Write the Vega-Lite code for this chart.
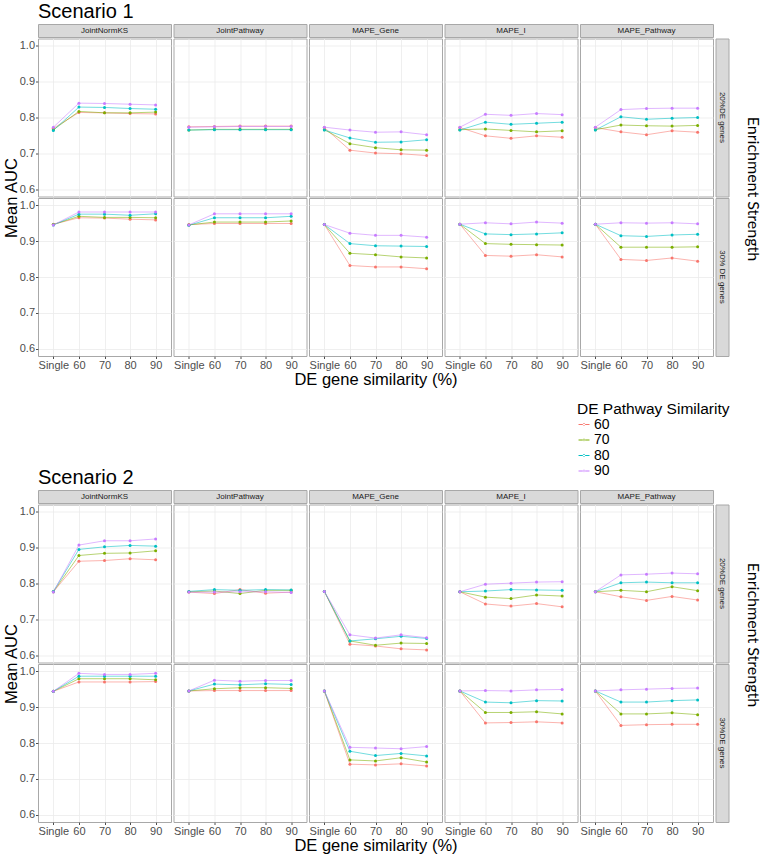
{
  "$schema": "https://vega.github.io/schema/vega-lite/v6.json",
  "padding": {"left": 2, "top": 1, "right": 0, "bottom": 0},
  "datasets": {
    "s1": [
      {"d":"20","m":"JointNormKS","p":"60","x":"Single","v":0.770},{"d":"20","m":"JointNormKS","p":"60","x":"60","v":0.814},{"d":"20","m":"JointNormKS","p":"60","x":"70","v":0.813},{"d":"20","m":"JointNormKS","p":"60","x":"80","v":0.811},{"d":"20","m":"JointNormKS","p":"60","x":"90","v":0.810},
      {"d":"20","m":"JointNormKS","p":"70","x":"Single","v":0.766},{"d":"20","m":"JointNormKS","p":"70","x":"60","v":0.817},{"d":"20","m":"JointNormKS","p":"70","x":"70","v":0.813},{"d":"20","m":"JointNormKS","p":"70","x":"80","v":0.813},{"d":"20","m":"JointNormKS","p":"70","x":"90","v":0.815},
      {"d":"20","m":"JointNormKS","p":"80","x":"Single","v":0.764},{"d":"20","m":"JointNormKS","p":"80","x":"60","v":0.829},{"d":"20","m":"JointNormKS","p":"80","x":"70","v":0.828},{"d":"20","m":"JointNormKS","p":"80","x":"80","v":0.825},{"d":"20","m":"JointNormKS","p":"80","x":"90","v":0.823},
      {"d":"20","m":"JointNormKS","p":"90","x":"Single","v":0.773},{"d":"20","m":"JointNormKS","p":"90","x":"60","v":0.840},{"d":"20","m":"JointNormKS","p":"90","x":"70","v":0.839},{"d":"20","m":"JointNormKS","p":"90","x":"80","v":0.837},{"d":"20","m":"JointNormKS","p":"90","x":"90","v":0.835},
      {"d":"20","m":"JointPathway","p":"60","x":"Single","v":0.774},{"d":"20","m":"JointPathway","p":"60","x":"60","v":0.775},{"d":"20","m":"JointPathway","p":"60","x":"70","v":0.776},{"d":"20","m":"JointPathway","p":"60","x":"80","v":0.776},{"d":"20","m":"JointPathway","p":"60","x":"90","v":0.776},
      {"d":"20","m":"JointPathway","p":"70","x":"Single","v":0.765},{"d":"20","m":"JointPathway","p":"70","x":"60","v":0.767},{"d":"20","m":"JointPathway","p":"70","x":"70","v":0.767},{"d":"20","m":"JointPathway","p":"70","x":"80","v":0.767},{"d":"20","m":"JointPathway","p":"70","x":"90","v":0.767},
      {"d":"20","m":"JointPathway","p":"80","x":"Single","v":0.765},{"d":"20","m":"JointPathway","p":"80","x":"60","v":0.766},{"d":"20","m":"JointPathway","p":"80","x":"70","v":0.766},{"d":"20","m":"JointPathway","p":"80","x":"80","v":0.766},{"d":"20","m":"JointPathway","p":"80","x":"90","v":0.766},
      {"d":"20","m":"JointPathway","p":"90","x":"Single","v":0.773},{"d":"20","m":"JointPathway","p":"90","x":"60","v":0.774},{"d":"20","m":"JointPathway","p":"90","x":"70","v":0.775},{"d":"20","m":"JointPathway","p":"90","x":"80","v":0.775},{"d":"20","m":"JointPathway","p":"90","x":"90","v":0.775},
      {"d":"20","m":"MAPE_Gene","p":"60","x":"Single","v":0.772},{"d":"20","m":"MAPE_Gene","p":"60","x":"60","v":0.709},{"d":"20","m":"MAPE_Gene","p":"60","x":"70","v":0.701},{"d":"20","m":"MAPE_Gene","p":"60","x":"80","v":0.699},{"d":"20","m":"MAPE_Gene","p":"60","x":"90","v":0.694},
      {"d":"20","m":"MAPE_Gene","p":"70","x":"Single","v":0.766},{"d":"20","m":"MAPE_Gene","p":"70","x":"60","v":0.727},{"d":"20","m":"MAPE_Gene","p":"70","x":"70","v":0.716},{"d":"20","m":"MAPE_Gene","p":"70","x":"80","v":0.710},{"d":"20","m":"MAPE_Gene","p":"70","x":"90","v":0.709},
      {"d":"20","m":"MAPE_Gene","p":"80","x":"Single","v":0.765},{"d":"20","m":"MAPE_Gene","p":"80","x":"60","v":0.743},{"d":"20","m":"MAPE_Gene","p":"80","x":"70","v":0.731},{"d":"20","m":"MAPE_Gene","p":"80","x":"80","v":0.732},{"d":"20","m":"MAPE_Gene","p":"80","x":"90","v":0.738},
      {"d":"20","m":"MAPE_Gene","p":"90","x":"Single","v":0.773},{"d":"20","m":"MAPE_Gene","p":"90","x":"60","v":0.765},{"d":"20","m":"MAPE_Gene","p":"90","x":"70","v":0.759},{"d":"20","m":"MAPE_Gene","p":"90","x":"80","v":0.760},{"d":"20","m":"MAPE_Gene","p":"90","x":"90","v":0.752},
      {"d":"20","m":"MAPE_I","p":"60","x":"Single","v":0.772},{"d":"20","m":"MAPE_I","p":"60","x":"60","v":0.749},{"d":"20","m":"MAPE_I","p":"60","x":"70","v":0.742},{"d":"20","m":"MAPE_I","p":"60","x":"80","v":0.749},{"d":"20","m":"MAPE_I","p":"60","x":"90","v":0.745},
      {"d":"20","m":"MAPE_I","p":"70","x":"Single","v":0.766},{"d":"20","m":"MAPE_I","p":"70","x":"60","v":0.768},{"d":"20","m":"MAPE_I","p":"70","x":"70","v":0.764},{"d":"20","m":"MAPE_I","p":"70","x":"80","v":0.760},{"d":"20","m":"MAPE_I","p":"70","x":"90","v":0.763},
      {"d":"20","m":"MAPE_I","p":"80","x":"Single","v":0.765},{"d":"20","m":"MAPE_I","p":"80","x":"60","v":0.787},{"d":"20","m":"MAPE_I","p":"80","x":"70","v":0.781},{"d":"20","m":"MAPE_I","p":"80","x":"80","v":0.784},{"d":"20","m":"MAPE_I","p":"80","x":"90","v":0.787},
      {"d":"20","m":"MAPE_I","p":"90","x":"Single","v":0.773},{"d":"20","m":"MAPE_I","p":"90","x":"60","v":0.809},{"d":"20","m":"MAPE_I","p":"90","x":"70","v":0.806},{"d":"20","m":"MAPE_I","p":"90","x":"80","v":0.811},{"d":"20","m":"MAPE_I","p":"90","x":"90","v":0.808},
      {"d":"20","m":"MAPE_Pathway","p":"60","x":"Single","v":0.772},{"d":"20","m":"MAPE_Pathway","p":"60","x":"60","v":0.760},{"d":"20","m":"MAPE_Pathway","p":"60","x":"70","v":0.752},{"d":"20","m":"MAPE_Pathway","p":"60","x":"80","v":0.763},{"d":"20","m":"MAPE_Pathway","p":"60","x":"90","v":0.759},
      {"d":"20","m":"MAPE_Pathway","p":"70","x":"Single","v":0.766},{"d":"20","m":"MAPE_Pathway","p":"70","x":"60","v":0.779},{"d":"20","m":"MAPE_Pathway","p":"70","x":"70","v":0.777},{"d":"20","m":"MAPE_Pathway","p":"70","x":"80","v":0.776},{"d":"20","m":"MAPE_Pathway","p":"70","x":"90","v":0.778},
      {"d":"20","m":"MAPE_Pathway","p":"80","x":"Single","v":0.765},{"d":"20","m":"MAPE_Pathway","p":"80","x":"60","v":0.802},{"d":"20","m":"MAPE_Pathway","p":"80","x":"70","v":0.795},{"d":"20","m":"MAPE_Pathway","p":"80","x":"80","v":0.798},{"d":"20","m":"MAPE_Pathway","p":"80","x":"90","v":0.800},
      {"d":"20","m":"MAPE_Pathway","p":"90","x":"Single","v":0.773},{"d":"20","m":"MAPE_Pathway","p":"90","x":"60","v":0.822},{"d":"20","m":"MAPE_Pathway","p":"90","x":"70","v":0.825},{"d":"20","m":"MAPE_Pathway","p":"90","x":"80","v":0.826},{"d":"20","m":"MAPE_Pathway","p":"90","x":"90","v":0.826},
      {"d":"30","m":"JointNormKS","p":"60","x":"Single","v":0.947},{"d":"30","m":"JointNormKS","p":"60","x":"60","v":0.965},{"d":"30","m":"JointNormKS","p":"60","x":"70","v":0.964},{"d":"30","m":"JointNormKS","p":"60","x":"80","v":0.961},{"d":"30","m":"JointNormKS","p":"60","x":"90","v":0.959},
      {"d":"30","m":"JointNormKS","p":"70","x":"Single","v":0.946},{"d":"30","m":"JointNormKS","p":"70","x":"60","v":0.969},{"d":"30","m":"JointNormKS","p":"70","x":"70","v":0.966},{"d":"30","m":"JointNormKS","p":"70","x":"80","v":0.966},{"d":"30","m":"JointNormKS","p":"70","x":"90","v":0.965},
      {"d":"30","m":"JointNormKS","p":"80","x":"Single","v":0.945},{"d":"30","m":"JointNormKS","p":"80","x":"60","v":0.975},{"d":"30","m":"JointNormKS","p":"80","x":"70","v":0.975},{"d":"30","m":"JointNormKS","p":"80","x":"80","v":0.972},{"d":"30","m":"JointNormKS","p":"80","x":"90","v":0.976},
      {"d":"30","m":"JointNormKS","p":"90","x":"Single","v":0.945},{"d":"30","m":"JointNormKS","p":"90","x":"60","v":0.981},{"d":"30","m":"JointNormKS","p":"90","x":"70","v":0.981},{"d":"30","m":"JointNormKS","p":"90","x":"80","v":0.981},{"d":"30","m":"JointNormKS","p":"90","x":"90","v":0.981},
      {"d":"30","m":"JointPathway","p":"60","x":"Single","v":0.946},{"d":"30","m":"JointPathway","p":"60","x":"60","v":0.949},{"d":"30","m":"JointPathway","p":"60","x":"70","v":0.949},{"d":"30","m":"JointPathway","p":"60","x":"80","v":0.949},{"d":"30","m":"JointPathway","p":"60","x":"90","v":0.949},
      {"d":"30","m":"JointPathway","p":"70","x":"Single","v":0.945},{"d":"30","m":"JointPathway","p":"70","x":"60","v":0.953},{"d":"30","m":"JointPathway","p":"70","x":"70","v":0.953},{"d":"30","m":"JointPathway","p":"70","x":"80","v":0.953},{"d":"30","m":"JointPathway","p":"70","x":"90","v":0.956},
      {"d":"30","m":"JointPathway","p":"80","x":"Single","v":0.944},{"d":"30","m":"JointPathway","p":"80","x":"60","v":0.965},{"d":"30","m":"JointPathway","p":"80","x":"70","v":0.965},{"d":"30","m":"JointPathway","p":"80","x":"80","v":0.965},{"d":"30","m":"JointPathway","p":"80","x":"90","v":0.969},
      {"d":"30","m":"JointPathway","p":"90","x":"Single","v":0.945},{"d":"30","m":"JointPathway","p":"90","x":"60","v":0.976},{"d":"30","m":"JointPathway","p":"90","x":"70","v":0.976},{"d":"30","m":"JointPathway","p":"90","x":"80","v":0.976},{"d":"30","m":"JointPathway","p":"90","x":"90","v":0.976},
      {"d":"30","m":"MAPE_Gene","p":"60","x":"Single","v":0.946},{"d":"30","m":"MAPE_Gene","p":"60","x":"60","v":0.832},{"d":"30","m":"MAPE_Gene","p":"60","x":"70","v":0.828},{"d":"30","m":"MAPE_Gene","p":"60","x":"80","v":0.828},{"d":"30","m":"MAPE_Gene","p":"60","x":"90","v":0.823},
      {"d":"30","m":"MAPE_Gene","p":"70","x":"Single","v":0.946},{"d":"30","m":"MAPE_Gene","p":"70","x":"60","v":0.866},{"d":"30","m":"MAPE_Gene","p":"70","x":"70","v":0.862},{"d":"30","m":"MAPE_Gene","p":"70","x":"80","v":0.856},{"d":"30","m":"MAPE_Gene","p":"70","x":"90","v":0.853},
      {"d":"30","m":"MAPE_Gene","p":"80","x":"Single","v":0.946},{"d":"30","m":"MAPE_Gene","p":"80","x":"60","v":0.893},{"d":"30","m":"MAPE_Gene","p":"80","x":"70","v":0.887},{"d":"30","m":"MAPE_Gene","p":"80","x":"80","v":0.886},{"d":"30","m":"MAPE_Gene","p":"80","x":"90","v":0.885},
      {"d":"30","m":"MAPE_Gene","p":"90","x":"Single","v":0.946},{"d":"30","m":"MAPE_Gene","p":"90","x":"60","v":0.922},{"d":"30","m":"MAPE_Gene","p":"90","x":"70","v":0.916},{"d":"30","m":"MAPE_Gene","p":"90","x":"80","v":0.916},{"d":"30","m":"MAPE_Gene","p":"90","x":"90","v":0.911},
      {"d":"30","m":"MAPE_I","p":"60","x":"Single","v":0.947},{"d":"30","m":"MAPE_I","p":"60","x":"60","v":0.860},{"d":"30","m":"MAPE_I","p":"60","x":"70","v":0.858},{"d":"30","m":"MAPE_I","p":"60","x":"80","v":0.862},{"d":"30","m":"MAPE_I","p":"60","x":"90","v":0.856},
      {"d":"30","m":"MAPE_I","p":"70","x":"Single","v":0.947},{"d":"30","m":"MAPE_I","p":"70","x":"60","v":0.893},{"d":"30","m":"MAPE_I","p":"70","x":"70","v":0.891},{"d":"30","m":"MAPE_I","p":"70","x":"80","v":0.890},{"d":"30","m":"MAPE_I","p":"70","x":"90","v":0.889},
      {"d":"30","m":"MAPE_I","p":"80","x":"Single","v":0.947},{"d":"30","m":"MAPE_I","p":"80","x":"60","v":0.920},{"d":"30","m":"MAPE_I","p":"80","x":"70","v":0.918},{"d":"30","m":"MAPE_I","p":"80","x":"80","v":0.920},{"d":"30","m":"MAPE_I","p":"80","x":"90","v":0.923},
      {"d":"30","m":"MAPE_I","p":"90","x":"Single","v":0.947},{"d":"30","m":"MAPE_I","p":"90","x":"60","v":0.951},{"d":"30","m":"MAPE_I","p":"90","x":"70","v":0.948},{"d":"30","m":"MAPE_I","p":"90","x":"80","v":0.953},{"d":"30","m":"MAPE_I","p":"90","x":"90","v":0.950},
      {"d":"30","m":"MAPE_Pathway","p":"60","x":"Single","v":0.947},{"d":"30","m":"MAPE_Pathway","p":"60","x":"60","v":0.849},{"d":"30","m":"MAPE_Pathway","p":"60","x":"70","v":0.846},{"d":"30","m":"MAPE_Pathway","p":"60","x":"80","v":0.853},{"d":"30","m":"MAPE_Pathway","p":"60","x":"90","v":0.844},
      {"d":"30","m":"MAPE_Pathway","p":"70","x":"Single","v":0.947},{"d":"30","m":"MAPE_Pathway","p":"70","x":"60","v":0.883},{"d":"30","m":"MAPE_Pathway","p":"70","x":"70","v":0.883},{"d":"30","m":"MAPE_Pathway","p":"70","x":"80","v":0.883},{"d":"30","m":"MAPE_Pathway","p":"70","x":"90","v":0.884},
      {"d":"30","m":"MAPE_Pathway","p":"80","x":"Single","v":0.947},{"d":"30","m":"MAPE_Pathway","p":"80","x":"60","v":0.915},{"d":"30","m":"MAPE_Pathway","p":"80","x":"70","v":0.913},{"d":"30","m":"MAPE_Pathway","p":"80","x":"80","v":0.917},{"d":"30","m":"MAPE_Pathway","p":"80","x":"90","v":0.919},
      {"d":"30","m":"MAPE_Pathway","p":"90","x":"Single","v":0.947},{"d":"30","m":"MAPE_Pathway","p":"90","x":"60","v":0.951},{"d":"30","m":"MAPE_Pathway","p":"90","x":"70","v":0.950},{"d":"30","m":"MAPE_Pathway","p":"90","x":"80","v":0.951},{"d":"30","m":"MAPE_Pathway","p":"90","x":"90","v":0.948}
    ],
    "s2": [
      {"d":"20","m":"JointNormKS","p":"60","x":"Single","v":0.777},{"d":"20","m":"JointNormKS","p":"60","x":"60","v":0.862},{"d":"20","m":"JointNormKS","p":"60","x":"70","v":0.864},{"d":"20","m":"JointNormKS","p":"60","x":"80","v":0.869},{"d":"20","m":"JointNormKS","p":"60","x":"90","v":0.866},
      {"d":"20","m":"JointNormKS","p":"70","x":"Single","v":0.777},{"d":"20","m":"JointNormKS","p":"70","x":"60","v":0.878},{"d":"20","m":"JointNormKS","p":"70","x":"70","v":0.884},{"d":"20","m":"JointNormKS","p":"70","x":"80","v":0.885},{"d":"20","m":"JointNormKS","p":"70","x":"90","v":0.891},
      {"d":"20","m":"JointNormKS","p":"80","x":"Single","v":0.778},{"d":"20","m":"JointNormKS","p":"80","x":"60","v":0.895},{"d":"20","m":"JointNormKS","p":"80","x":"70","v":0.902},{"d":"20","m":"JointNormKS","p":"80","x":"80","v":0.906},{"d":"20","m":"JointNormKS","p":"80","x":"90","v":0.904},
      {"d":"20","m":"JointNormKS","p":"90","x":"Single","v":0.776},{"d":"20","m":"JointNormKS","p":"90","x":"60","v":0.907},{"d":"20","m":"JointNormKS","p":"90","x":"70","v":0.919},{"d":"20","m":"JointNormKS","p":"90","x":"80","v":0.919},{"d":"20","m":"JointNormKS","p":"90","x":"90","v":0.924},
      {"d":"20","m":"JointPathway","p":"60","x":"Single","v":0.776},{"d":"20","m":"JointPathway","p":"60","x":"60","v":0.772},{"d":"20","m":"JointPathway","p":"60","x":"70","v":0.783},{"d":"20","m":"JointPathway","p":"60","x":"80","v":0.773},{"d":"20","m":"JointPathway","p":"60","x":"90","v":0.776},
      {"d":"20","m":"JointPathway","p":"70","x":"Single","v":0.777},{"d":"20","m":"JointPathway","p":"70","x":"60","v":0.779},{"d":"20","m":"JointPathway","p":"70","x":"70","v":0.772},{"d":"20","m":"JointPathway","p":"70","x":"80","v":0.781},{"d":"20","m":"JointPathway","p":"70","x":"90","v":0.781},
      {"d":"20","m":"JointPathway","p":"80","x":"Single","v":0.778},{"d":"20","m":"JointPathway","p":"80","x":"60","v":0.783},{"d":"20","m":"JointPathway","p":"80","x":"70","v":0.781},{"d":"20","m":"JointPathway","p":"80","x":"80","v":0.783},{"d":"20","m":"JointPathway","p":"80","x":"90","v":0.782},
      {"d":"20","m":"JointPathway","p":"90","x":"Single","v":0.776},{"d":"20","m":"JointPathway","p":"90","x":"60","v":0.776},{"d":"20","m":"JointPathway","p":"90","x":"70","v":0.777},{"d":"20","m":"JointPathway","p":"90","x":"80","v":0.777},{"d":"20","m":"JointPathway","p":"90","x":"90","v":0.775},
      {"d":"20","m":"MAPE_Gene","p":"60","x":"Single","v":0.778},{"d":"20","m":"MAPE_Gene","p":"60","x":"60","v":0.631},{"d":"20","m":"MAPE_Gene","p":"60","x":"70","v":0.626},{"d":"20","m":"MAPE_Gene","p":"60","x":"80","v":0.618},{"d":"20","m":"MAPE_Gene","p":"60","x":"90","v":0.615},
      {"d":"20","m":"MAPE_Gene","p":"70","x":"Single","v":0.778},{"d":"20","m":"MAPE_Gene","p":"70","x":"60","v":0.640},{"d":"20","m":"MAPE_Gene","p":"70","x":"70","v":0.628},{"d":"20","m":"MAPE_Gene","p":"70","x":"80","v":0.634},{"d":"20","m":"MAPE_Gene","p":"70","x":"90","v":0.633},
      {"d":"20","m":"MAPE_Gene","p":"80","x":"Single","v":0.778},{"d":"20","m":"MAPE_Gene","p":"80","x":"60","v":0.640},{"d":"20","m":"MAPE_Gene","p":"80","x":"70","v":0.646},{"d":"20","m":"MAPE_Gene","p":"80","x":"80","v":0.653},{"d":"20","m":"MAPE_Gene","p":"80","x":"90","v":0.647},
      {"d":"20","m":"MAPE_Gene","p":"90","x":"Single","v":0.778},{"d":"20","m":"MAPE_Gene","p":"90","x":"60","v":0.657},{"d":"20","m":"MAPE_Gene","p":"90","x":"70","v":0.648},{"d":"20","m":"MAPE_Gene","p":"90","x":"80","v":0.657},{"d":"20","m":"MAPE_Gene","p":"90","x":"90","v":0.649},
      {"d":"20","m":"MAPE_I","p":"60","x":"Single","v":0.777},{"d":"20","m":"MAPE_I","p":"60","x":"60","v":0.743},{"d":"20","m":"MAPE_I","p":"60","x":"70","v":0.737},{"d":"20","m":"MAPE_I","p":"60","x":"80","v":0.744},{"d":"20","m":"MAPE_I","p":"60","x":"90","v":0.735},
      {"d":"20","m":"MAPE_I","p":"70","x":"Single","v":0.777},{"d":"20","m":"MAPE_I","p":"70","x":"60","v":0.762},{"d":"20","m":"MAPE_I","p":"70","x":"70","v":0.758},{"d":"20","m":"MAPE_I","p":"70","x":"80","v":0.768},{"d":"20","m":"MAPE_I","p":"70","x":"90","v":0.765},
      {"d":"20","m":"MAPE_I","p":"80","x":"Single","v":0.777},{"d":"20","m":"MAPE_I","p":"80","x":"60","v":0.779},{"d":"20","m":"MAPE_I","p":"80","x":"70","v":0.783},{"d":"20","m":"MAPE_I","p":"80","x":"80","v":0.782},{"d":"20","m":"MAPE_I","p":"80","x":"90","v":0.781},
      {"d":"20","m":"MAPE_I","p":"90","x":"Single","v":0.777},{"d":"20","m":"MAPE_I","p":"90","x":"60","v":0.798},{"d":"20","m":"MAPE_I","p":"90","x":"70","v":0.801},{"d":"20","m":"MAPE_I","p":"90","x":"80","v":0.804},{"d":"20","m":"MAPE_I","p":"90","x":"90","v":0.805},
      {"d":"20","m":"MAPE_Pathway","p":"60","x":"Single","v":0.777},{"d":"20","m":"MAPE_Pathway","p":"60","x":"60","v":0.763},{"d":"20","m":"MAPE_Pathway","p":"60","x":"70","v":0.753},{"d":"20","m":"MAPE_Pathway","p":"60","x":"80","v":0.764},{"d":"20","m":"MAPE_Pathway","p":"60","x":"90","v":0.754},
      {"d":"20","m":"MAPE_Pathway","p":"70","x":"Single","v":0.777},{"d":"20","m":"MAPE_Pathway","p":"70","x":"60","v":0.781},{"d":"20","m":"MAPE_Pathway","p":"70","x":"70","v":0.777},{"d":"20","m":"MAPE_Pathway","p":"70","x":"80","v":0.791},{"d":"20","m":"MAPE_Pathway","p":"70","x":"90","v":0.780},
      {"d":"20","m":"MAPE_Pathway","p":"80","x":"Single","v":0.777},{"d":"20","m":"MAPE_Pathway","p":"80","x":"60","v":0.802},{"d":"20","m":"MAPE_Pathway","p":"80","x":"70","v":0.804},{"d":"20","m":"MAPE_Pathway","p":"80","x":"80","v":0.802},{"d":"20","m":"MAPE_Pathway","p":"80","x":"90","v":0.802},
      {"d":"20","m":"MAPE_Pathway","p":"90","x":"Single","v":0.777},{"d":"20","m":"MAPE_Pathway","p":"90","x":"60","v":0.824},{"d":"20","m":"MAPE_Pathway","p":"90","x":"70","v":0.826},{"d":"20","m":"MAPE_Pathway","p":"90","x":"80","v":0.829},{"d":"20","m":"MAPE_Pathway","p":"90","x":"90","v":0.827},
      {"d":"30","m":"JointNormKS","p":"60","x":"Single","v":0.944},{"d":"30","m":"JointNormKS","p":"60","x":"60","v":0.970},{"d":"30","m":"JointNormKS","p":"60","x":"70","v":0.970},{"d":"30","m":"JointNormKS","p":"60","x":"80","v":0.970},{"d":"30","m":"JointNormKS","p":"60","x":"90","v":0.971},
      {"d":"30","m":"JointNormKS","p":"70","x":"Single","v":0.944},{"d":"30","m":"JointNormKS","p":"70","x":"60","v":0.979},{"d":"30","m":"JointNormKS","p":"70","x":"70","v":0.979},{"d":"30","m":"JointNormKS","p":"70","x":"80","v":0.979},{"d":"30","m":"JointNormKS","p":"70","x":"90","v":0.976},
      {"d":"30","m":"JointNormKS","p":"80","x":"Single","v":0.944},{"d":"30","m":"JointNormKS","p":"80","x":"60","v":0.986},{"d":"30","m":"JointNormKS","p":"80","x":"70","v":0.986},{"d":"30","m":"JointNormKS","p":"80","x":"80","v":0.986},{"d":"30","m":"JointNormKS","p":"80","x":"90","v":0.986},
      {"d":"30","m":"JointNormKS","p":"90","x":"Single","v":0.944},{"d":"30","m":"JointNormKS","p":"90","x":"60","v":0.994},{"d":"30","m":"JointNormKS","p":"90","x":"70","v":0.991},{"d":"30","m":"JointNormKS","p":"90","x":"80","v":0.991},{"d":"30","m":"JointNormKS","p":"90","x":"90","v":0.994},
      {"d":"30","m":"JointPathway","p":"60","x":"Single","v":0.945},{"d":"30","m":"JointPathway","p":"60","x":"60","v":0.946},{"d":"30","m":"JointPathway","p":"60","x":"70","v":0.946},{"d":"30","m":"JointPathway","p":"60","x":"80","v":0.946},{"d":"30","m":"JointPathway","p":"60","x":"90","v":0.946},
      {"d":"30","m":"JointPathway","p":"70","x":"Single","v":0.945},{"d":"30","m":"JointPathway","p":"70","x":"60","v":0.951},{"d":"30","m":"JointPathway","p":"70","x":"70","v":0.954},{"d":"30","m":"JointPathway","p":"70","x":"80","v":0.954},{"d":"30","m":"JointPathway","p":"70","x":"90","v":0.952},
      {"d":"30","m":"JointPathway","p":"80","x":"Single","v":0.945},{"d":"30","m":"JointPathway","p":"80","x":"60","v":0.964},{"d":"30","m":"JointPathway","p":"80","x":"70","v":0.962},{"d":"30","m":"JointPathway","p":"80","x":"80","v":0.965},{"d":"30","m":"JointPathway","p":"80","x":"90","v":0.963},
      {"d":"30","m":"JointPathway","p":"90","x":"Single","v":0.945},{"d":"30","m":"JointPathway","p":"90","x":"60","v":0.975},{"d":"30","m":"JointPathway","p":"90","x":"70","v":0.972},{"d":"30","m":"JointPathway","p":"90","x":"80","v":0.974},{"d":"30","m":"JointPathway","p":"90","x":"90","v":0.974},
      {"d":"30","m":"MAPE_Gene","p":"60","x":"Single","v":0.945},{"d":"30","m":"MAPE_Gene","p":"60","x":"60","v":0.741},{"d":"30","m":"MAPE_Gene","p":"60","x":"70","v":0.739},{"d":"30","m":"MAPE_Gene","p":"60","x":"80","v":0.742},{"d":"30","m":"MAPE_Gene","p":"60","x":"90","v":0.736},
      {"d":"30","m":"MAPE_Gene","p":"70","x":"Single","v":0.945},{"d":"30","m":"MAPE_Gene","p":"70","x":"60","v":0.753},{"d":"30","m":"MAPE_Gene","p":"70","x":"70","v":0.750},{"d":"30","m":"MAPE_Gene","p":"70","x":"80","v":0.759},{"d":"30","m":"MAPE_Gene","p":"70","x":"90","v":0.747},
      {"d":"30","m":"MAPE_Gene","p":"80","x":"Single","v":0.945},{"d":"30","m":"MAPE_Gene","p":"80","x":"60","v":0.777},{"d":"30","m":"MAPE_Gene","p":"80","x":"70","v":0.765},{"d":"30","m":"MAPE_Gene","p":"80","x":"80","v":0.771},{"d":"30","m":"MAPE_Gene","p":"80","x":"90","v":0.764},
      {"d":"30","m":"MAPE_Gene","p":"90","x":"Single","v":0.945},{"d":"30","m":"MAPE_Gene","p":"90","x":"60","v":0.788},{"d":"30","m":"MAPE_Gene","p":"90","x":"70","v":0.786},{"d":"30","m":"MAPE_Gene","p":"90","x":"80","v":0.784},{"d":"30","m":"MAPE_Gene","p":"90","x":"90","v":0.790},
      {"d":"30","m":"MAPE_I","p":"60","x":"Single","v":0.945},{"d":"30","m":"MAPE_I","p":"60","x":"60","v":0.856},{"d":"30","m":"MAPE_I","p":"60","x":"70","v":0.857},{"d":"30","m":"MAPE_I","p":"60","x":"80","v":0.859},{"d":"30","m":"MAPE_I","p":"60","x":"90","v":0.856},
      {"d":"30","m":"MAPE_I","p":"70","x":"Single","v":0.945},{"d":"30","m":"MAPE_I","p":"70","x":"60","v":0.885},{"d":"30","m":"MAPE_I","p":"70","x":"70","v":0.885},{"d":"30","m":"MAPE_I","p":"70","x":"80","v":0.887},{"d":"30","m":"MAPE_I","p":"70","x":"90","v":0.881},
      {"d":"30","m":"MAPE_I","p":"80","x":"Single","v":0.945},{"d":"30","m":"MAPE_I","p":"80","x":"60","v":0.914},{"d":"30","m":"MAPE_I","p":"80","x":"70","v":0.912},{"d":"30","m":"MAPE_I","p":"80","x":"80","v":0.918},{"d":"30","m":"MAPE_I","p":"80","x":"90","v":0.917},
      {"d":"30","m":"MAPE_I","p":"90","x":"Single","v":0.945},{"d":"30","m":"MAPE_I","p":"90","x":"60","v":0.946},{"d":"30","m":"MAPE_I","p":"90","x":"70","v":0.945},{"d":"30","m":"MAPE_I","p":"90","x":"80","v":0.948},{"d":"30","m":"MAPE_I","p":"90","x":"90","v":0.949},
      {"d":"30","m":"MAPE_Pathway","p":"60","x":"Single","v":0.945},{"d":"30","m":"MAPE_Pathway","p":"60","x":"60","v":0.849},{"d":"30","m":"MAPE_Pathway","p":"60","x":"70","v":0.851},{"d":"30","m":"MAPE_Pathway","p":"60","x":"80","v":0.852},{"d":"30","m":"MAPE_Pathway","p":"60","x":"90","v":0.852},
      {"d":"30","m":"MAPE_Pathway","p":"70","x":"Single","v":0.945},{"d":"30","m":"MAPE_Pathway","p":"70","x":"60","v":0.881},{"d":"30","m":"MAPE_Pathway","p":"70","x":"70","v":0.881},{"d":"30","m":"MAPE_Pathway","p":"70","x":"80","v":0.884},{"d":"30","m":"MAPE_Pathway","p":"70","x":"90","v":0.879},
      {"d":"30","m":"MAPE_Pathway","p":"80","x":"Single","v":0.945},{"d":"30","m":"MAPE_Pathway","p":"80","x":"60","v":0.914},{"d":"30","m":"MAPE_Pathway","p":"80","x":"70","v":0.914},{"d":"30","m":"MAPE_Pathway","p":"80","x":"80","v":0.918},{"d":"30","m":"MAPE_Pathway","p":"80","x":"90","v":0.920},
      {"d":"30","m":"MAPE_Pathway","p":"90","x":"Single","v":0.945},{"d":"30","m":"MAPE_Pathway","p":"90","x":"60","v":0.948},{"d":"30","m":"MAPE_Pathway","p":"90","x":"70","v":0.950},{"d":"30","m":"MAPE_Pathway","p":"90","x":"80","v":0.952},{"d":"30","m":"MAPE_Pathway","p":"90","x":"90","v":0.953}
    ]
  },
  "spacing": 78,
  "vconcat": [
    {
      "spacing": 14,
      "hconcat": [
        {
          "title": {"text": "Scenario 1", "anchor": "start", "frame": "group", "fontSize": 20, "fontWeight": "normal", "color": "black", "offset": 2},
          "columns": 6,
          "bounds": "flush",
          "spacing": {"row": 1.5, "column": 2.5},
          "concat": [
            {"width": 133, "height": 13, "view": {"fill": "#d9d9d9", "stroke": "#a8a8a8"}, "data": {"values": [{"m": "JointNormKS"}]}, "mark": {"type": "text", "fontSize": 8, "color": "#1a1a1a"}, "encoding": {"text": {"field": "m"}}},
            {"width": 133, "height": 13, "view": {"fill": "#d9d9d9", "stroke": "#a8a8a8"}, "data": {"values": [{"m": "JointPathway"}]}, "mark": {"type": "text", "fontSize": 8, "color": "#1a1a1a"}, "encoding": {"text": {"field": "m"}}},
            {"width": 133, "height": 13, "view": {"fill": "#d9d9d9", "stroke": "#a8a8a8"}, "data": {"values": [{"m": "MAPE_Gene"}]}, "mark": {"type": "text", "fontSize": 8, "color": "#1a1a1a"}, "encoding": {"text": {"field": "m"}}},
            {"width": 133, "height": 13, "view": {"fill": "#d9d9d9", "stroke": "#a8a8a8"}, "data": {"values": [{"m": "MAPE_I"}]}, "mark": {"type": "text", "fontSize": 8, "color": "#1a1a1a"}, "encoding": {"text": {"field": "m"}}},
            {"width": 133, "height": 13, "view": {"fill": "#d9d9d9", "stroke": "#a8a8a8"}, "data": {"values": [{"m": "MAPE_Pathway"}]}, "mark": {"type": "text", "fontSize": 8, "color": "#1a1a1a"}, "encoding": {"text": {"field": "m"}}},
            {"width": 13, "height": 13, "view": {"stroke": null}, "data": {"values": []}, "mark": "point", "encoding": {}},

            {"width": 133, "height": 158, "view": {"fill": "white", "stroke": "#a8a8a8"}, "data": {"name": "s1"}, "transform": [{"filter": "datum.d === '20' && datum.m === 'JointNormKS'"}],
             "encoding": {"x": {"field": "x", "type": "ordinal", "scale": {"type": "point", "domain": ["Single", "60", "70", "80", "90"], "padding": 0.6}, "axis": {"labels": false, "ticks": false, "title": null}},
               "y": {"field": "v", "type": "quantitative", "scale": {"domain": [0.58, 1.02], "nice": false, "zero": false}, "axis": {"title": "Mean AUC", "titleY": 159}},
               "color": {"field": "p", "type": "nominal", "title": "DE Pathway Similarity"}},
             "layer": [{"mark": {"type": "line", "strokeWidth": 1, "opacity": 0.55}, "encoding": {"order": {"value": null}}}, {"mark": {"type": "circle", "size": 9, "opacity": 1}}]},
            {"width": 133, "height": 158, "view": {"fill": "white", "stroke": "#a8a8a8"}, "data": {"name": "s1"}, "transform": [{"filter": "datum.d === '20' && datum.m === 'JointPathway'"}],
             "encoding": {"x": {"field": "x", "type": "ordinal", "scale": {"type": "point", "domain": ["Single", "60", "70", "80", "90"], "padding": 0.6}, "axis": {"labels": false, "ticks": false, "title": null}},
               "y": {"field": "v", "type": "quantitative", "scale": {"domain": [0.58, 1.02], "nice": false, "zero": false}, "axis": {"labels": false, "ticks": false, "title": null}},
               "color": {"field": "p", "type": "nominal", "title": "DE Pathway Similarity"}},
             "layer": [{"mark": {"type": "line", "strokeWidth": 1, "opacity": 0.55}, "encoding": {"order": {"value": null}}}, {"mark": {"type": "circle", "size": 9, "opacity": 1}}]},
            {"width": 133, "height": 158, "view": {"fill": "white", "stroke": "#a8a8a8"}, "data": {"name": "s1"}, "transform": [{"filter": "datum.d === '20' && datum.m === 'MAPE_Gene'"}],
             "encoding": {"x": {"field": "x", "type": "ordinal", "scale": {"type": "point", "domain": ["Single", "60", "70", "80", "90"], "padding": 0.6}, "axis": {"labels": false, "ticks": false, "title": null}},
               "y": {"field": "v", "type": "quantitative", "scale": {"domain": [0.58, 1.02], "nice": false, "zero": false}, "axis": {"labels": false, "ticks": false, "title": null}},
               "color": {"field": "p", "type": "nominal", "title": "DE Pathway Similarity"}},
             "layer": [{"mark": {"type": "line", "strokeWidth": 1, "opacity": 0.55}, "encoding": {"order": {"value": null}}}, {"mark": {"type": "circle", "size": 9, "opacity": 1}}]},
            {"width": 133, "height": 158, "view": {"fill": "white", "stroke": "#a8a8a8"}, "data": {"name": "s1"}, "transform": [{"filter": "datum.d === '20' && datum.m === 'MAPE_I'"}],
             "encoding": {"x": {"field": "x", "type": "ordinal", "scale": {"type": "point", "domain": ["Single", "60", "70", "80", "90"], "padding": 0.6}, "axis": {"labels": false, "ticks": false, "title": null}},
               "y": {"field": "v", "type": "quantitative", "scale": {"domain": [0.58, 1.02], "nice": false, "zero": false}, "axis": {"labels": false, "ticks": false, "title": null}},
               "color": {"field": "p", "type": "nominal", "title": "DE Pathway Similarity"}},
             "layer": [{"mark": {"type": "line", "strokeWidth": 1, "opacity": 0.55}, "encoding": {"order": {"value": null}}}, {"mark": {"type": "circle", "size": 9, "opacity": 1}}]},
            {"width": 133, "height": 158, "view": {"fill": "white", "stroke": "#a8a8a8"}, "data": {"name": "s1"}, "transform": [{"filter": "datum.d === '20' && datum.m === 'MAPE_Pathway'"}],
             "encoding": {"x": {"field": "x", "type": "ordinal", "scale": {"type": "point", "domain": ["Single", "60", "70", "80", "90"], "padding": 0.6}, "axis": {"labels": false, "ticks": false, "title": null}},
               "y": {"field": "v", "type": "quantitative", "scale": {"domain": [0.58, 1.02], "nice": false, "zero": false}, "axis": {"labels": false, "ticks": false, "title": null}},
               "color": {"field": "p", "type": "nominal", "title": "DE Pathway Similarity"}},
             "layer": [{"mark": {"type": "line", "strokeWidth": 1, "opacity": 0.55}, "encoding": {"order": {"value": null}}}, {"mark": {"type": "circle", "size": 9, "opacity": 1}}]},
            {"width": 13, "height": 158, "view": {"fill": "#d9d9d9", "stroke": "#a8a8a8"}, "data": {"values": [{"d": "20%DE genes"}]}, "mark": {"type": "text", "fontSize": 8, "angle": 90, "color": "#1a1a1a"}, "encoding": {"text": {"field": "d"}}},

            {"width": 133, "height": 158, "view": {"fill": "white", "stroke": "#a8a8a8"}, "data": {"name": "s1"}, "transform": [{"filter": "datum.d === '30' && datum.m === 'JointNormKS'"}],
             "encoding": {"x": {"field": "x", "type": "ordinal", "scale": {"type": "point", "domain": ["Single", "60", "70", "80", "90"], "padding": 0.6}, "axis": {"title": null}},
               "y": {"field": "v", "type": "quantitative", "scale": {"domain": [0.58, 1.02], "nice": false, "zero": false}, "axis": {"title": null}},
               "color": {"field": "p", "type": "nominal", "title": "DE Pathway Similarity"}},
             "layer": [{"mark": {"type": "line", "strokeWidth": 1, "opacity": 0.55}, "encoding": {"order": {"value": null}}}, {"mark": {"type": "circle", "size": 9, "opacity": 1}}]},
            {"width": 133, "height": 158, "view": {"fill": "white", "stroke": "#a8a8a8"}, "data": {"name": "s1"}, "transform": [{"filter": "datum.d === '30' && datum.m === 'JointPathway'"}],
             "encoding": {"x": {"field": "x", "type": "ordinal", "scale": {"type": "point", "domain": ["Single", "60", "70", "80", "90"], "padding": 0.6}, "axis": {"title": null}},
               "y": {"field": "v", "type": "quantitative", "scale": {"domain": [0.58, 1.02], "nice": false, "zero": false}, "axis": {"labels": false, "ticks": false, "title": null}},
               "color": {"field": "p", "type": "nominal", "title": "DE Pathway Similarity"}},
             "layer": [{"mark": {"type": "line", "strokeWidth": 1, "opacity": 0.55}, "encoding": {"order": {"value": null}}}, {"mark": {"type": "circle", "size": 9, "opacity": 1}}]},
            {"width": 133, "height": 158, "view": {"fill": "white", "stroke": "#a8a8a8"}, "data": {"name": "s1"}, "transform": [{"filter": "datum.d === '30' && datum.m === 'MAPE_Gene'"}],
             "encoding": {"x": {"field": "x", "type": "ordinal", "scale": {"type": "point", "domain": ["Single", "60", "70", "80", "90"], "padding": 0.6}, "axis": {"title": "DE gene similarity (%)"}},
               "y": {"field": "v", "type": "quantitative", "scale": {"domain": [0.58, 1.02], "nice": false, "zero": false}, "axis": {"labels": false, "ticks": false, "title": null}},
               "color": {"field": "p", "type": "nominal", "title": "DE Pathway Similarity"}},
             "layer": [{"mark": {"type": "line", "strokeWidth": 1, "opacity": 0.55}, "encoding": {"order": {"value": null}}}, {"mark": {"type": "circle", "size": 9, "opacity": 1}}]},
            {"width": 133, "height": 158, "view": {"fill": "white", "stroke": "#a8a8a8"}, "data": {"name": "s1"}, "transform": [{"filter": "datum.d === '30' && datum.m === 'MAPE_I'"}],
             "encoding": {"x": {"field": "x", "type": "ordinal", "scale": {"type": "point", "domain": ["Single", "60", "70", "80", "90"], "padding": 0.6}, "axis": {"title": null}},
               "y": {"field": "v", "type": "quantitative", "scale": {"domain": [0.58, 1.02], "nice": false, "zero": false}, "axis": {"labels": false, "ticks": false, "title": null}},
               "color": {"field": "p", "type": "nominal", "title": "DE Pathway Similarity"}},
             "layer": [{"mark": {"type": "line", "strokeWidth": 1, "opacity": 0.55}, "encoding": {"order": {"value": null}}}, {"mark": {"type": "circle", "size": 9, "opacity": 1}}]},
            {"width": 133, "height": 158, "view": {"fill": "white", "stroke": "#a8a8a8"}, "data": {"name": "s1"}, "transform": [{"filter": "datum.d === '30' && datum.m === 'MAPE_Pathway'"}],
             "encoding": {"x": {"field": "x", "type": "ordinal", "scale": {"type": "point", "domain": ["Single", "60", "70", "80", "90"], "padding": 0.6}, "axis": {"title": null}},
               "y": {"field": "v", "type": "quantitative", "scale": {"domain": [0.58, 1.02], "nice": false, "zero": false}, "axis": {"labels": false, "ticks": false, "title": null}},
               "color": {"field": "p", "type": "nominal", "title": "DE Pathway Similarity"}},
             "layer": [{"mark": {"type": "line", "strokeWidth": 1, "opacity": 0.55}, "encoding": {"order": {"value": null}}}, {"mark": {"type": "circle", "size": 9, "opacity": 1}}]},
            {"width": 13, "height": 158, "view": {"fill": "#d9d9d9", "stroke": "#a8a8a8"}, "data": {"values": [{"d": "30% DE genes"}]}, "mark": {"type": "text", "fontSize": 8, "angle": 90, "color": "#1a1a1a"}, "encoding": {"text": {"field": "d"}}}
          ]
        },
        {"width": 20, "height": 330, "view": {"stroke": null}, "data": {"values": [{"t": "Enrichment Strength"}]}, "mark": {"type": "text", "angle": 90, "font": "Lato", "fontSize": 16, "color": "black"}, "encoding": {"text": {"field": "t"}}}
      ]
    },
    {
      "spacing": 14,
      "hconcat": [
        {
          "title": {"text": "Scenario 2", "anchor": "start", "frame": "group", "fontSize": 20, "fontWeight": "normal", "color": "black", "offset": 2},
          "columns": 6,
          "bounds": "flush",
          "spacing": {"row": 1.5, "column": 2.5},
          "concat": [
            {"width": 133, "height": 13, "view": {"fill": "#d9d9d9", "stroke": "#a8a8a8"}, "data": {"values": [{"m": "JointNormKS"}]}, "mark": {"type": "text", "fontSize": 8, "color": "#1a1a1a"}, "encoding": {"text": {"field": "m"}}},
            {"width": 133, "height": 13, "view": {"fill": "#d9d9d9", "stroke": "#a8a8a8"}, "data": {"values": [{"m": "JointPathway"}]}, "mark": {"type": "text", "fontSize": 8, "color": "#1a1a1a"}, "encoding": {"text": {"field": "m"}}},
            {"width": 133, "height": 13, "view": {"fill": "#d9d9d9", "stroke": "#a8a8a8"}, "data": {"values": [{"m": "MAPE_Gene"}]}, "mark": {"type": "text", "fontSize": 8, "color": "#1a1a1a"}, "encoding": {"text": {"field": "m"}}},
            {"width": 133, "height": 13, "view": {"fill": "#d9d9d9", "stroke": "#a8a8a8"}, "data": {"values": [{"m": "MAPE_I"}]}, "mark": {"type": "text", "fontSize": 8, "color": "#1a1a1a"}, "encoding": {"text": {"field": "m"}}},
            {"width": 133, "height": 13, "view": {"fill": "#d9d9d9", "stroke": "#a8a8a8"}, "data": {"values": [{"m": "MAPE_Pathway"}]}, "mark": {"type": "text", "fontSize": 8, "color": "#1a1a1a"}, "encoding": {"text": {"field": "m"}}},
            {"width": 13, "height": 13, "view": {"stroke": null}, "data": {"values": []}, "mark": "point", "encoding": {}},

            {"width": 133, "height": 158, "view": {"fill": "white", "stroke": "#a8a8a8"}, "data": {"name": "s2"}, "transform": [{"filter": "datum.d === '20' && datum.m === 'JointNormKS'"}],
             "encoding": {"x": {"field": "x", "type": "ordinal", "scale": {"type": "point", "domain": ["Single", "60", "70", "80", "90"], "padding": 0.6}, "axis": {"labels": false, "ticks": false, "title": null}},
               "y": {"field": "v", "type": "quantitative", "scale": {"domain": [0.58, 1.02], "nice": false, "zero": false}, "axis": {"title": "Mean AUC", "titleY": 159}},
               "color": {"field": "p", "type": "nominal", "title": "DE Pathway Similarity"}},
             "layer": [{"mark": {"type": "line", "strokeWidth": 1, "opacity": 0.55}, "encoding": {"order": {"value": null}}}, {"mark": {"type": "circle", "size": 9, "opacity": 1}}]},
            {"width": 133, "height": 158, "view": {"fill": "white", "stroke": "#a8a8a8"}, "data": {"name": "s2"}, "transform": [{"filter": "datum.d === '20' && datum.m === 'JointPathway'"}],
             "encoding": {"x": {"field": "x", "type": "ordinal", "scale": {"type": "point", "domain": ["Single", "60", "70", "80", "90"], "padding": 0.6}, "axis": {"labels": false, "ticks": false, "title": null}},
               "y": {"field": "v", "type": "quantitative", "scale": {"domain": [0.58, 1.02], "nice": false, "zero": false}, "axis": {"labels": false, "ticks": false, "title": null}},
               "color": {"field": "p", "type": "nominal", "title": "DE Pathway Similarity"}},
             "layer": [{"mark": {"type": "line", "strokeWidth": 1, "opacity": 0.55}, "encoding": {"order": {"value": null}}}, {"mark": {"type": "circle", "size": 9, "opacity": 1}}]},
            {"width": 133, "height": 158, "view": {"fill": "white", "stroke": "#a8a8a8"}, "data": {"name": "s2"}, "transform": [{"filter": "datum.d === '20' && datum.m === 'MAPE_Gene'"}],
             "encoding": {"x": {"field": "x", "type": "ordinal", "scale": {"type": "point", "domain": ["Single", "60", "70", "80", "90"], "padding": 0.6}, "axis": {"labels": false, "ticks": false, "title": null}},
               "y": {"field": "v", "type": "quantitative", "scale": {"domain": [0.58, 1.02], "nice": false, "zero": false}, "axis": {"labels": false, "ticks": false, "title": null}},
               "color": {"field": "p", "type": "nominal", "title": "DE Pathway Similarity"}},
             "layer": [{"mark": {"type": "line", "strokeWidth": 1, "opacity": 0.55}, "encoding": {"order": {"value": null}}}, {"mark": {"type": "circle", "size": 9, "opacity": 1}}]},
            {"width": 133, "height": 158, "view": {"fill": "white", "stroke": "#a8a8a8"}, "data": {"name": "s2"}, "transform": [{"filter": "datum.d === '20' && datum.m === 'MAPE_I'"}],
             "encoding": {"x": {"field": "x", "type": "ordinal", "scale": {"type": "point", "domain": ["Single", "60", "70", "80", "90"], "padding": 0.6}, "axis": {"labels": false, "ticks": false, "title": null}},
               "y": {"field": "v", "type": "quantitative", "scale": {"domain": [0.58, 1.02], "nice": false, "zero": false}, "axis": {"labels": false, "ticks": false, "title": null}},
               "color": {"field": "p", "type": "nominal", "title": "DE Pathway Similarity"}},
             "layer": [{"mark": {"type": "line", "strokeWidth": 1, "opacity": 0.55}, "encoding": {"order": {"value": null}}}, {"mark": {"type": "circle", "size": 9, "opacity": 1}}]},
            {"width": 133, "height": 158, "view": {"fill": "white", "stroke": "#a8a8a8"}, "data": {"name": "s2"}, "transform": [{"filter": "datum.d === '20' && datum.m === 'MAPE_Pathway'"}],
             "encoding": {"x": {"field": "x", "type": "ordinal", "scale": {"type": "point", "domain": ["Single", "60", "70", "80", "90"], "padding": 0.6}, "axis": {"labels": false, "ticks": false, "title": null}},
               "y": {"field": "v", "type": "quantitative", "scale": {"domain": [0.58, 1.02], "nice": false, "zero": false}, "axis": {"labels": false, "ticks": false, "title": null}},
               "color": {"field": "p", "type": "nominal", "title": "DE Pathway Similarity"}},
             "layer": [{"mark": {"type": "line", "strokeWidth": 1, "opacity": 0.55}, "encoding": {"order": {"value": null}}}, {"mark": {"type": "circle", "size": 9, "opacity": 1}}]},
            {"width": 13, "height": 158, "view": {"fill": "#d9d9d9", "stroke": "#a8a8a8"}, "data": {"values": [{"d": "20%DE genes"}]}, "mark": {"type": "text", "fontSize": 8, "angle": 90, "color": "#1a1a1a"}, "encoding": {"text": {"field": "d"}}},

            {"width": 133, "height": 158, "view": {"fill": "white", "stroke": "#a8a8a8"}, "data": {"name": "s2"}, "transform": [{"filter": "datum.d === '30' && datum.m === 'JointNormKS'"}],
             "encoding": {"x": {"field": "x", "type": "ordinal", "scale": {"type": "point", "domain": ["Single", "60", "70", "80", "90"], "padding": 0.6}, "axis": {"title": null}},
               "y": {"field": "v", "type": "quantitative", "scale": {"domain": [0.58, 1.02], "nice": false, "zero": false}, "axis": {"title": null}},
               "color": {"field": "p", "type": "nominal", "title": "DE Pathway Similarity"}},
             "layer": [{"mark": {"type": "line", "strokeWidth": 1, "opacity": 0.55}, "encoding": {"order": {"value": null}}}, {"mark": {"type": "circle", "size": 9, "opacity": 1}}]},
            {"width": 133, "height": 158, "view": {"fill": "white", "stroke": "#a8a8a8"}, "data": {"name": "s2"}, "transform": [{"filter": "datum.d === '30' && datum.m === 'JointPathway'"}],
             "encoding": {"x": {"field": "x", "type": "ordinal", "scale": {"type": "point", "domain": ["Single", "60", "70", "80", "90"], "padding": 0.6}, "axis": {"title": null}},
               "y": {"field": "v", "type": "quantitative", "scale": {"domain": [0.58, 1.02], "nice": false, "zero": false}, "axis": {"labels": false, "ticks": false, "title": null}},
               "color": {"field": "p", "type": "nominal", "title": "DE Pathway Similarity"}},
             "layer": [{"mark": {"type": "line", "strokeWidth": 1, "opacity": 0.55}, "encoding": {"order": {"value": null}}}, {"mark": {"type": "circle", "size": 9, "opacity": 1}}]},
            {"width": 133, "height": 158, "view": {"fill": "white", "stroke": "#a8a8a8"}, "data": {"name": "s2"}, "transform": [{"filter": "datum.d === '30' && datum.m === 'MAPE_Gene'"}],
             "encoding": {"x": {"field": "x", "type": "ordinal", "scale": {"type": "point", "domain": ["Single", "60", "70", "80", "90"], "padding": 0.6}, "axis": {"title": "DE gene similarity (%)"}},
               "y": {"field": "v", "type": "quantitative", "scale": {"domain": [0.58, 1.02], "nice": false, "zero": false}, "axis": {"labels": false, "ticks": false, "title": null}},
               "color": {"field": "p", "type": "nominal", "title": "DE Pathway Similarity"}},
             "layer": [{"mark": {"type": "line", "strokeWidth": 1, "opacity": 0.55}, "encoding": {"order": {"value": null}}}, {"mark": {"type": "circle", "size": 9, "opacity": 1}}]},
            {"width": 133, "height": 158, "view": {"fill": "white", "stroke": "#a8a8a8"}, "data": {"name": "s2"}, "transform": [{"filter": "datum.d === '30' && datum.m === 'MAPE_I'"}],
             "encoding": {"x": {"field": "x", "type": "ordinal", "scale": {"type": "point", "domain": ["Single", "60", "70", "80", "90"], "padding": 0.6}, "axis": {"title": null}},
               "y": {"field": "v", "type": "quantitative", "scale": {"domain": [0.58, 1.02], "nice": false, "zero": false}, "axis": {"labels": false, "ticks": false, "title": null}},
               "color": {"field": "p", "type": "nominal", "title": "DE Pathway Similarity"}},
             "layer": [{"mark": {"type": "line", "strokeWidth": 1, "opacity": 0.55}, "encoding": {"order": {"value": null}}}, {"mark": {"type": "circle", "size": 9, "opacity": 1}}]},
            {"width": 133, "height": 158, "view": {"fill": "white", "stroke": "#a8a8a8"}, "data": {"name": "s2"}, "transform": [{"filter": "datum.d === '30' && datum.m === 'MAPE_Pathway'"}],
             "encoding": {"x": {"field": "x", "type": "ordinal", "scale": {"type": "point", "domain": ["Single", "60", "70", "80", "90"], "padding": 0.6}, "axis": {"title": null}},
               "y": {"field": "v", "type": "quantitative", "scale": {"domain": [0.58, 1.02], "nice": false, "zero": false}, "axis": {"labels": false, "ticks": false, "title": null}},
               "color": {"field": "p", "type": "nominal", "title": "DE Pathway Similarity"}},
             "layer": [{"mark": {"type": "line", "strokeWidth": 1, "opacity": 0.55}, "encoding": {"order": {"value": null}}}, {"mark": {"type": "circle", "size": 9, "opacity": 1}}]},
            {"width": 13, "height": 158, "view": {"fill": "#d9d9d9", "stroke": "#a8a8a8"}, "data": {"values": [{"d": "30%DE genes"}]}, "mark": {"type": "text", "fontSize": 8, "angle": 90, "color": "#1a1a1a"}, "encoding": {"text": {"field": "d"}}}
          ]
        },
        {"width": 20, "height": 290, "view": {"stroke": null}, "data": {"values": [{"t": "Enrichment Strength"}]}, "mark": {"type": "text", "angle": 90, "font": "Lato", "fontSize": 16, "color": "black"}, "encoding": {"text": {"field": "t"}}}
      ]
    }
  ],
  "config": {
    "font": "Liberation Sans",
    "background": "white",
    "range": {"category": ["#F8766D", "#7CAE00", "#00BFC4", "#C77CFF"]},
    "axisX": {
      "grid": true, "labelAngle": 0, "labelFontSize": 11, "labelColor": "#4d4d4d", "tickColor": "#4d4d4d", "tickSize": 2.5,
      "labelPadding": 1, "domain": false, "gridColor": "#ebebeb", "gridWidth": 0.8,
      "titleFontSize": 16.5, "titleFontWeight": "normal", "titleColor": "black", "titlePadding": 1
    },
    "axisY": {
      "values": [0.6, 0.65, 0.7, 0.75, 0.8, 0.85, 0.9, 0.95, 1.0],
      "labelExpr": "round(datum.value * 100) % 10 === 0 ? format(datum.value, '.1f') : ''",
      "labelOverlap": false,
      "labelFontSize": 11, "labelColor": "#4d4d4d", "tickSize": 2.5, "labelPadding": 1, "domain": false,
      "tickColor": "#4d4d4d",
      "tickOpacity": {"condition": {"test": "round(datum.value * 100) % 10 !== 0", "value": 0}, "value": 1},
      "gridColor": {"condition": {"test": "round(datum.value * 100) % 10 !== 0", "value": "#f5f5f5"}, "value": "#ebebeb"},
      "gridWidth": 0.8,
      "titleFontSize": 16.5, "titleFontWeight": "normal", "titleColor": "black", "titlePadding": 0
    },
    "legend": {
      "orient": "none", "legendX": 539, "legendY": 378,
      "titleFontSize": 15.5, "titleFontWeight": "normal", "titleColor": "black", "titlePadding": 0,
      "labelFontSize": 14, "labelColor": "black", "labelOffset": 3, "labelBaseline": "middle",
      "symbolType": "M-1,-0.07H1V0.07H-1Z M-0.22,0a0.22,0.22 0 1,0 0.44,0a0.22,0.22 0 1,0 -0.44,0",
      "symbolSize": 120, "symbolStrokeWidth": 0, "symbolOpacity": 1, "rowPadding": 1.5,
      "labelFontWeight": "normal", "columns": 1, "labelLimit": 40
    }
  }
}
